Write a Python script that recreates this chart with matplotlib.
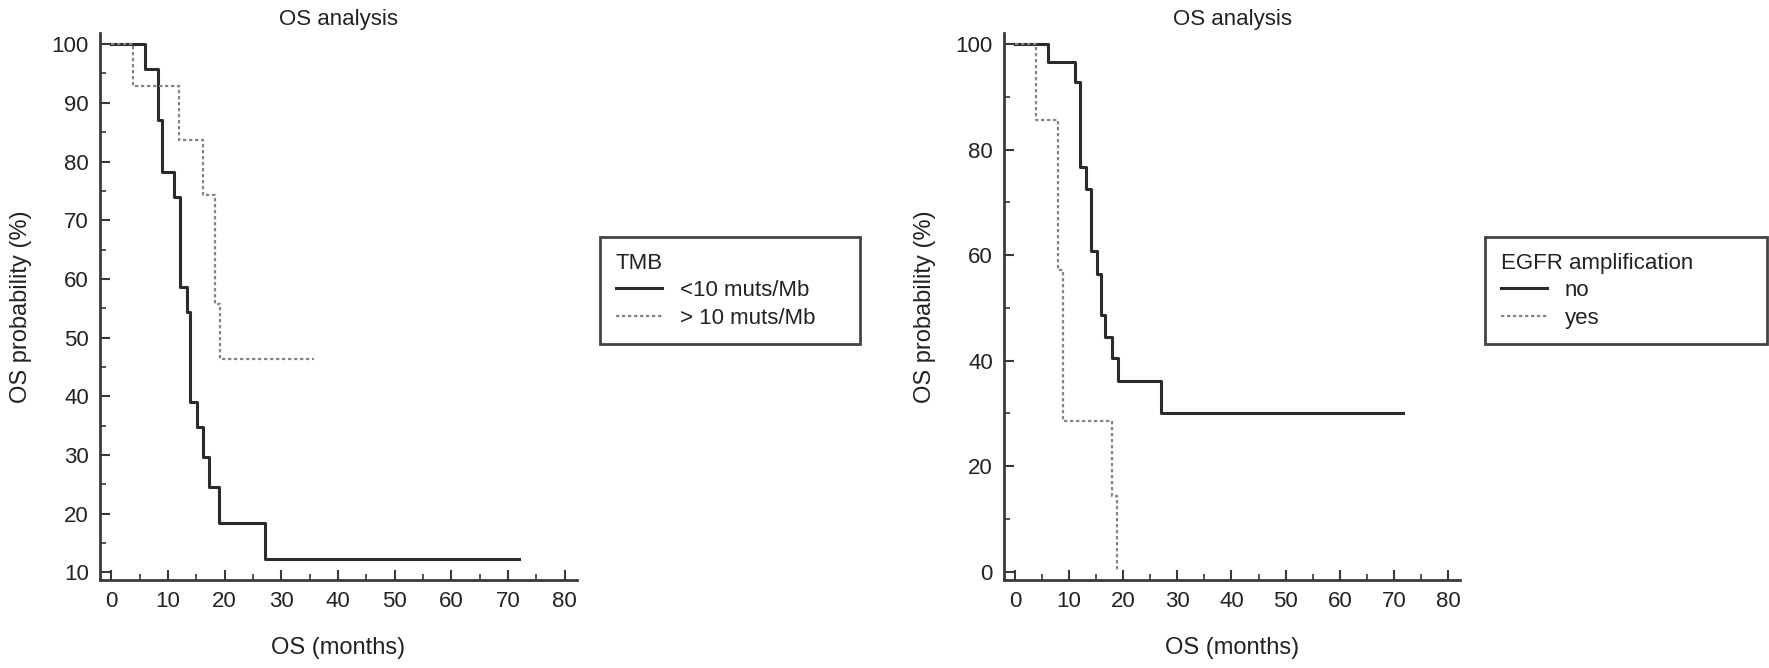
import matplotlib
matplotlib.use("Agg")
import matplotlib.pyplot as plt
from matplotlib.ticker import MultipleLocator

plt.rcParams['font.family'] = ['Liberation Sans', 'DejaVu Sans']

# Kaplan-Meier curves (time in months, survival in %)
tmb_low_t = [0, 6.0, 8.3, 8.9, 11.0, 12.2, 13.3, 13.9, 15.1, 16.2, 17.2, 19.0, 27.2, 72.0]
tmb_low_s = [100, 95.7, 87.0, 78.3, 73.9, 58.7, 54.3, 39.1, 34.8, 29.7, 24.5, 18.4, 12.2, 12.2]

tmb_high_t = [0, 3.9, 12.0, 16.2, 18.3, 19.1, 35.7]
tmb_high_s = [100, 92.9, 83.6, 74.3, 55.7, 46.4, 46.4]

egfr_no_t = [0, 6.1, 11.1, 12.0, 13.2, 14.0, 15.2, 16.0, 16.7, 17.9, 19.0, 26.9, 71.6]
egfr_no_s = [100, 96.6, 92.9, 76.7, 72.6, 60.8, 56.5, 48.6, 44.5, 40.4, 36.1, 30.0, 30.0]

egfr_yes_t = [0, 3.9, 8.0, 8.9, 17.9, 18.9]
egfr_yes_s = [100, 85.7, 57.1, 28.6, 14.3, 0]

tmb_labels = ["<10 muts/Mb", "> 10 muts/Mb"]
egfr_labels = ["no", "yes"]

SOLID = "#2b2b2b"
DOTTED = "#858585"
TEXT = "#222222"
W, H = 1769, 668

fig = plt.figure(figsize=(W / 100, H / 100), dpi=100)

def px(x0, y0, x1, y1):
    # pixel box -> figure fraction [left, bottom, width, height]
    return [x0 / W, 1 - y1 / H, (x1 - x0) / W, (y1 - y0) / H]

def style_axes(ax, ylim, ymajor, yminor):
    ax.set_xlim(-2.0, 82.2)
    ax.set_ylim(*ylim)
    ax.xaxis.set_major_locator(MultipleLocator(10))
    ax.xaxis.set_minor_locator(MultipleLocator(5))
    ax.yaxis.set_major_locator(MultipleLocator(ymajor))
    ax.yaxis.set_minor_locator(MultipleLocator(yminor))
    for side in ["top", "right"]:
        ax.spines[side].set_visible(False)
    for side in ["left", "bottom"]:
        ax.spines[side].set_linewidth(2.0)
        ax.spines[side].set_color("#3a3a3a")
    ax.tick_params(which="major", direction="in", length=7, width=1.5,
                   color="#3a3a3a", labelsize=16, labelcolor=TEXT, pad=8)
    ax.tick_params(which="minor", direction="in", length=4, width=1.2, color="#3a3a3a")
    ax.set_title("OS analysis", fontsize=16, color=TEXT, pad=6)
    ax.set_xlabel("OS (months)", fontsize=17, color=TEXT, labelpad=18)
    ax.set_ylabel("OS probability (%)", fontsize=17, color=TEXT, labelpad=14)

def add_legend(ax, title, x0, x1):
    leg = ax.legend(title=title, loc="upper left", mode="expand",
                    bbox_to_anchor=px(x0, 237, x1, 345), bbox_transform=fig.transFigure,
                    fontsize=16, title_fontsize=16, alignment="left",
                    frameon=True, fancybox=False, framealpha=1, borderaxespad=0,
                    handlelength=2.1, handletextpad=0.8, labelspacing=0.3,
                    borderpad=0.7)
    leg.get_frame().set_edgecolor("#444444")
    leg.get_frame().set_linewidth(2.0)
    for t in leg.get_texts():
        t.set_color(TEXT)
    leg.get_title().set_color(TEXT)

# left panel: TMB
ax1 = fig.add_axes(px(100, 33, 577, 580))
ax1.step(tmb_low_t, tmb_low_s, where="post", color=SOLID, lw=2.2, label=tmb_labels[0])
ax1.step(tmb_high_t, tmb_high_s, where="post", color=DOTTED, lw=1.6,
         linestyle=(0, (1.5, 1.2)), label=tmb_labels[1])
style_axes(ax1, (8.7, 101.9), 10, 5)
add_legend(ax1, "TMB", 600, 860)

# right panel: EGFR amplification
ax2 = fig.add_axes(px(1004, 33, 1460, 580))
ax2.step(egfr_no_t, egfr_no_s, where="post", color=SOLID, lw=2.2, label=egfr_labels[0])
ax2.step(egfr_yes_t, egfr_yes_s, where="post", color=DOTTED, lw=1.6,
         linestyle=(0, (1.5, 1.2)), label=egfr_labels[1])
style_axes(ax2, (-1.6, 102.1), 20, 10)
add_legend(ax2, "EGFR amplification", 1485, 1767)

fig.savefig("out.png", dpi=100, facecolor="white")
